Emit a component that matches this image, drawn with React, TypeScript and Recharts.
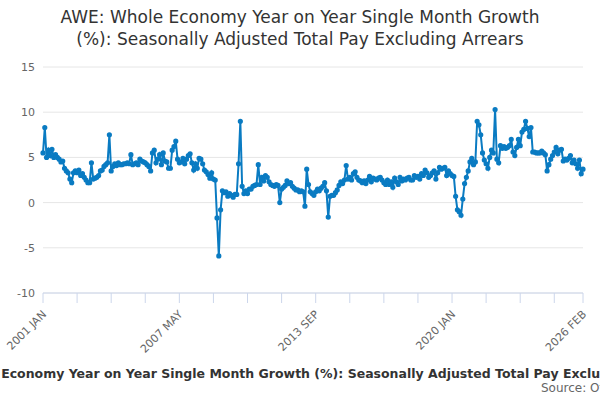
import { LineChart, Line, XAxis, YAxis, CartesianGrid } from "recharts";

const YEARS = Array.from({ length: 26 }, (_, i) => 2001 + i);
const MONTHS = ["JAN", "FEB", "MAR", "APR", "MAY", "JUN", "JUL", "AUG", "SEP", "OCT", "NOV", "DEC"];

// monthly values per year
const VALUES: number[] = [
  5.5, 8.3, 5.0, 5.8, 5.2, 5.9, 5.0, 5.3, 5.0, 4.8, 4.5, 4.6,
  3.8, 3.5, 3.3, 2.6, 2.2, 3.3, 3.5, 3.3, 3.6, 3.0, 3.2, 2.8,
  2.5, 2.2, 2.2, 4.4, 2.6, 2.7, 2.8, 3.0, 3.5, 3.6, 4.0, 4.2,
  4.4, 7.5, 3.5, 4.0, 4.3, 4.1, 4.4, 4.2, 4.2, 4.3, 4.3, 4.4,
  4.3, 5.3, 4.2, 4.3, 4.4, 4.2, 4.8, 4.6, 4.5, 4.4, 4.2, 4.0,
  3.5, 5.5, 5.8, 4.4, 4.8, 5.3, 4.2, 5.5, 4.6, 4.5, 3.8, 3.8,
  5.8, 6.2, 6.8, 4.8, 4.4, 4.5, 4.9, 4.3, 4.8, 5.2, 5.4, 4.4,
  3.6, 4.3, 3.8, 4.9, 4.8, 4.3, 3.6, 3.4, 3.1, 2.7, 3.3, 2.6,
  2.5, -1.7, -5.9, -0.8, 1.3, 1.1, 1.2, 0.7, 1.0, 0.8, 0.6, 0.9,
  0.9, 4.3, 9.0, 1.8, 1.0, 1.3, 1.0, 1.5, 1.5, 1.8, 1.9, 2.0,
  4.2, 2.0, 2.8, 2.4, 3.0, 2.8, 2.3, 2.0, 1.9, 1.8, 2.0, 1.9,
  0.0, 1.5, 1.7, 1.9, 2.4, 2.1, 2.2, 1.8, 1.6, 1.4, 1.4, 1.2,
  1.3, 1.2, -0.4, 3.7, 2.0, 1.2, 1.0, 0.8, 1.2, 1.5, 1.3, 1.6,
  1.8, 2.2, 1.3, -1.6, 0.7, 0.8, 0.8, 1.1, 1.4, 1.9, 2.3, 2.1,
  2.5, 4.1, 2.6, 2.8, 2.5, 3.2, 3.4, 2.8, 2.5, 2.4, 2.2, 2.4,
  2.1, 2.5, 2.9, 2.3, 2.7, 2.6, 2.5, 2.7, 2.8, 2.5, 2.2, 2.0,
  2.5, 2.0, 2.3, 1.7, 2.7, 2.3, 2.0, 2.8, 2.4, 2.6, 2.5, 2.7,
  2.8, 2.5, 2.5, 3.0, 2.8, 2.9, 2.6, 3.2, 3.0, 3.6, 3.3, 2.8,
  3.0, 3.3, 3.5, 2.6, 3.3, 3.9, 3.7, 3.8, 3.9, 3.0, 3.5, 3.2,
  3.0, 2.9, 0.7, -0.8, -1.0, -1.4, 0.4, 2.1, 2.8, 3.5, 4.5, 4.9,
  4.2, 4.5, 9.0, 8.6, 7.5, 5.5, 4.7, 4.3, 3.8, 5.0, 5.8, 5.5,
  10.3, 4.8, 4.4, 6.3, 6.0, 6.2, 6.0, 6.1, 6.3, 7.0, 5.6, 5.2,
  6.1, 7.0, 6.3, 7.8, 8.1, 9.0, 8.2, 7.3, 8.3, 5.6, 5.6, 5.5,
  5.5, 5.5, 5.7, 5.5, 5.3, 3.5, 4.2, 4.8, 5.2, 5.6, 6.1, 5.4,
  5.8, 5.9, 4.6, 4.8, 4.7, 4.9, 5.2, 4.4, 4.7, 4.3, 3.8, 4.7,
  3.2, 3.7,
];

const Y_TICKS = [-10, -5, 0, 5, 10, 15];
const LABELLED = [0, 76, 152, 228, 301];
const X_TICKS = [...Array.from({ length: 16 }, (_, i) => i * 19), 301];

const data = VALUES.map((v, i) => ({
  idx: i,
  label: `${YEARS[Math.floor(i / 12)]} ${MONTHS[i % 12]}`,
  value: v,
}));

const FONT = "'DejaVu Sans', sans-serif";

function XTick(props: any) {
  const { x, y, payload } = props;
  if (!LABELLED.includes(payload.value)) return null;
  const ax = x + 4;
  const ay = y + 10;
  return (
    <text x={ax} y={ay} textAnchor="end" fontSize={11} fill="#666" fontFamily={FONT}
      transform={`rotate(-45 ${ax} ${ay})`}>
      {data[payload.value].label}
    </text>
  );
}

export default function App() {
  return (
    <div style={{ position: "absolute", left: 0, top: 0, width: 600, height: 400, background: "#fff", overflow: "hidden", fontFamily: FONT }}>
      <div style={{ position: "absolute", top: 6, width: 600, textAlign: "center", fontSize: 17, color: "#333", lineHeight: "22px" }}>
        AWE: Whole Economy Year on Year Single Month Growth<br />(%): Seasonally Adjusted Total Pay Excluding Arrears
      </div>
      <LineChart width={600} height={400} data={data} margin={{ top: 67, right: 17, left: 8, bottom: 47 }}>
        <CartesianGrid vertical={false} stroke="#e6e6e6" />
        <XAxis dataKey="idx" type="number" domain={[0, 301]} ticks={X_TICKS} interval={0}
          stroke="#ccd6eb" tickSize={10} tick={<XTick />} height={60} />
        <YAxis domain={[-10, 15]} ticks={Y_TICKS} axisLine={false} tickLine={false} width={35}
          tick={{ fontSize: 11, fill: "#666", fontFamily: FONT }} />
        <Line dataKey="value" stroke="#0a7bc2" strokeWidth={2}
          dot={{ r: 1.6, fill: "#0a7bc2", stroke: "#0a7bc2" }} isAnimationActive={false} />
      </LineChart>
      <div style={{ position: "absolute", top: 366, left: 300, transform: "translateX(-50%)", whiteSpace: "nowrap", fontSize: 12.5, fontWeight: "bold", color: "#333" }}>
        AWE: Whole Economy Year on Year Single Month Growth (%): Seasonally Adjusted Total Pay Excluding Arrears
      </div>
      <div style={{ position: "absolute", top: 381, left: 541, whiteSpace: "nowrap", fontSize: 12, color: "#666" }}>
        Source: Office for National Statistics
      </div>
    </div>
  );
}
